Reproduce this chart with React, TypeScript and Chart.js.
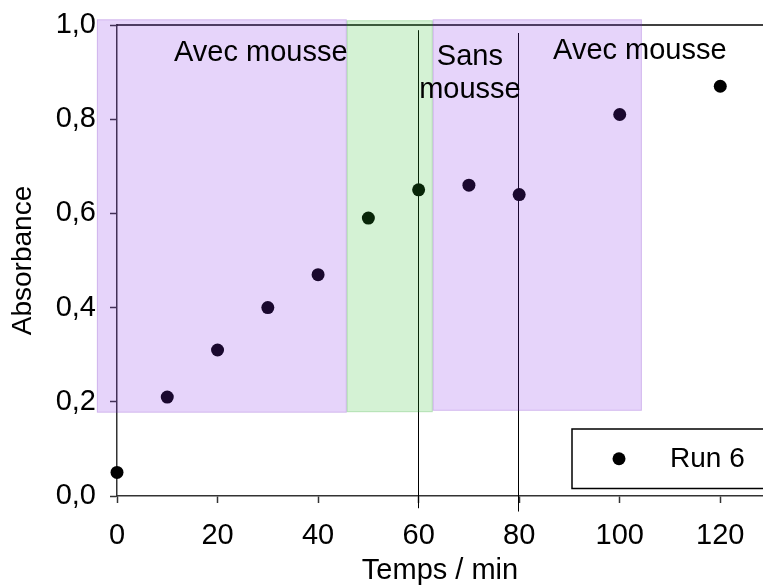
import React, { useEffect, useRef } from 'react';
import { Chart, registerables } from 'chart.js';

Chart.register(...registerables);

// ---- data ----
const timeMin = [0, 10, 20, 30, 40, 50, 60, 70, 80, 100, 120];
const absorbance = [0.05, 0.21, 0.31, 0.4, 0.47, 0.59, 0.65, 0.66, 0.64, 0.81, 0.87];
const seriesLabel = 'Run 6';

const xTickValues = [0, 20, 40, 60, 80, 100, 120];
const yTickValues = [0, 0.2, 0.4, 0.6, 0.8, 1.0];
const xMin = 0;
const xMax = 128.5;
const yMin = 0;
const yMax = 1.0;

// shaded phases (data units)
const phaseStart = [-4.0, 45.7, 62.8];
const phaseEnd = [45.7, 62.8, 104.4];
const phaseBottom = [0.177, 0.178, 0.181];
const phaseTop = [1.012, 1.01, 1.012];
const phaseKind = ['foam', 'nofoam', 'foam'];

// vertical marker lines (data units)
const markerTimes = [60, 80];
const markerBottom = [-0.026, -0.033];
const markerTop = [0.989, 0.983];

// phase notes (data units)
const noteLines = [['Avec mousse'], ['Sans', 'mousse'], ['Avec mousse']];
const noteX = [28.6, 70.2, 104.0];
const noteY = [0.9235, 0.915, 0.927];

// ---- styles ----
const FONT = "'Liberation Sans', Arial, sans-serif";
const phaseFill: Record<string, string> = {
  foam: 'rgba(130,40,230,0.2)',
  nofoam: 'rgba(40,190,40,0.2)',
};
const phaseStroke: Record<string, string> = {
  foam: 'rgba(110,40,180,0.18)',
  nofoam: 'rgba(40,150,40,0.18)',
};
const AXIS = '#333333';

const overlayPlugin = {
  id: 'overlay',
  afterLayout(chart: any) {
    // the plot area runs to the right edge of the picture (cropped frame)
    const x = chart.scales.x;
    const W = chart.width;
    if (x.right !== W) {
      x.right = W;
      x.width = W - x.left;
      x.configure();
      chart.chartArea.right = W;
      chart.chartArea.width = W - chart.chartArea.left;
    }
  },
  beforeDatasetsDraw(chart: any) {
    const { ctx, chartArea, scales } = chart;
    const x = scales.x;
    const y = scales.y;
    ctx.save();
    // top frame line
    const yt = y.getPixelForValue(yMax);
    ctx.strokeStyle = '#000';
    ctx.lineWidth = 1.5;
    ctx.beginPath();
    ctx.moveTo(chartArea.left, yt);
    ctx.lineTo(chartArea.right + 5, yt);
    ctx.stroke();
    // vertical markers
    ctx.lineWidth = 1;
    ctx.strokeStyle = '#000';
    markerTimes.forEach((t, i) => {
      const px = Math.round(x.getPixelForValue(t)) - 0.5;
      ctx.beginPath();
      ctx.moveTo(px, y.getPixelForValue(markerTop[i]));
      ctx.lineTo(px, y.getPixelForValue(markerBottom[i]));
      ctx.stroke();
    });
    ctx.restore();
  },
  afterDatasetsDraw(chart: any) {
    const { ctx, scales } = chart;
    const x = scales.x;
    const y = scales.y;
    ctx.save();
    phaseStart.forEach((s, i) => {
      const x0 = x.getPixelForValue(s);
      const x1 = x.getPixelForValue(phaseEnd[i]);
      const y0 = y.getPixelForValue(phaseTop[i]);
      const y1 = y.getPixelForValue(phaseBottom[i]);
      ctx.fillStyle = phaseFill[phaseKind[i]];
      ctx.fillRect(x0, y0, x1 - x0, y1 - y0);
      ctx.strokeStyle = phaseStroke[phaseKind[i]];
      ctx.lineWidth = 1;
      ctx.strokeRect(x0 + 0.5, y0 + 0.5, x1 - x0 - 1, y1 - y0 - 1);
    });
    ctx.restore();
  },
  afterDraw(chart: any) {
    const { ctx, chartArea, scales } = chart;
    const x = scales.x;
    const y = scales.y;
    ctx.save();
    ctx.fillStyle = '#000';
    ctx.font = `29px ${FONT}`;
    ctx.textAlign = 'center';
    ctx.textBaseline = 'alphabetic';
    noteLines.forEach((lines, i) => {
      const cx = x.getPixelForValue(noteX[i]);
      const by = y.getPixelForValue(noteY[i]);
      lines.forEach((t, j) => ctx.fillText(t, cx, by + j * 33));
    });
    // legend box
    ctx.font = `28px ${FONT}`;
    const left = chartArea.right - 191;
    const top = chartArea.bottom - 67;
    const bottom = chartArea.bottom - 7.5;
    ctx.strokeStyle = '#000';
    ctx.lineWidth = 1.5;
    ctx.strokeRect(left, top, chartArea.right + 20 - left, bottom - top);
    const cy = (top + bottom) / 2;
    ctx.beginPath();
    ctx.arc(left + 47, cy, 6.5, 0, Math.PI * 2);
    ctx.fillStyle = '#000';
    ctx.fill();
    ctx.textAlign = 'left';
    ctx.textBaseline = 'middle';
    ctx.fillText(chart.data.datasets[0].label, left + 98, cy + 1);
    ctx.restore();
  },
};

export default function App() {
  const ref = useRef<HTMLCanvasElement | null>(null);
  useEffect(() => {
    if (!ref.current) return;
    const chart = new Chart(ref.current, {
      type: 'scatter',
      data: {
        datasets: [
          {
            label: seriesLabel,
            data: timeMin.map((t, i) => ({ x: t, y: absorbance[i] })),
            backgroundColor: '#000',
            borderColor: '#000',
            pointRadius: 6.5,
            pointBorderWidth: 0,
            showLine: false,
            clip: false as any,
          },
        ],
      },
      options: {
        responsive: false,
        animation: false,
        layout: { padding: { top: 25, right: 0, left: 0, bottom: 0 } },
        plugins: { legend: { display: false }, tooltip: { enabled: false } },
        scales: {
          x: {
            type: 'linear',
            min: xMin,
            max: xMax,
            afterBuildTicks: (s: any) => {
              s.ticks = xTickValues.map((v) => ({ value: v }));
            },
            afterFit: (s: any) => {
              s.height = 89;
              s.paddingLeft = 0;
              s.paddingRight = 0;
            },
            ticks: {
              color: '#000',
              font: { family: FONT, size: 29, lineHeight: 1 },
              padding: 18,
              callback: (v: any) => String(v),
              maxRotation: 0,
              autoSkip: false,
            },
            grid: {
              drawOnChartArea: false,
              drawTicks: true,
              tickLength: 7,
              tickColor: AXIS,
              tickWidth: 1.5,
            },
            border: { display: true, color: AXIS, width: 1.5 },
            title: {
              display: true,
              text: 'Temps / min',
              color: '#000',
              font: { family: FONT, size: 29, lineHeight: 1 },
              padding: { top: 0, bottom: 0 },
            },
          },
          y: {
            type: 'linear',
            min: yMin,
            max: yMax,
            afterBuildTicks: (s: any) => {
              s.ticks = yTickValues.map((v) => ({ value: v }));
            },
            afterFit: (s: any) => {
              s.width = 117;
              s.paddingTop = 0;
              s.paddingBottom = 0;
            },
            ticks: {
              color: '#000',
              font: { family: FONT, size: 29, lineHeight: 1 },
              padding: 14,
              callback: (v: any) => Number(v).toFixed(1).replace('.', ','),
            },
            grid: {
              drawOnChartArea: false,
              drawTicks: true,
              tickLength: 7,
              tickColor: AXIS,
              tickWidth: 1.5,
            },
            border: { display: true, color: AXIS, width: 1.5 },
            title: {
              display: true,
              text: 'Absorbance',
              color: '#000',
              font: { family: FONT, size: 28, lineHeight: 1 },
              padding: { top: 9, bottom: 0 },
            },
          },
        },
      },
      plugins: [overlayPlugin],
    });
    return () => chart.destroy();
  }, []);
  return (
    <div style={{ position: 'fixed', left: 0, top: 0, width: 763, height: 585, overflow: 'hidden', background: '#fff' }}>
      <canvas ref={ref} width={763} height={585} />
    </div>
  );
}
